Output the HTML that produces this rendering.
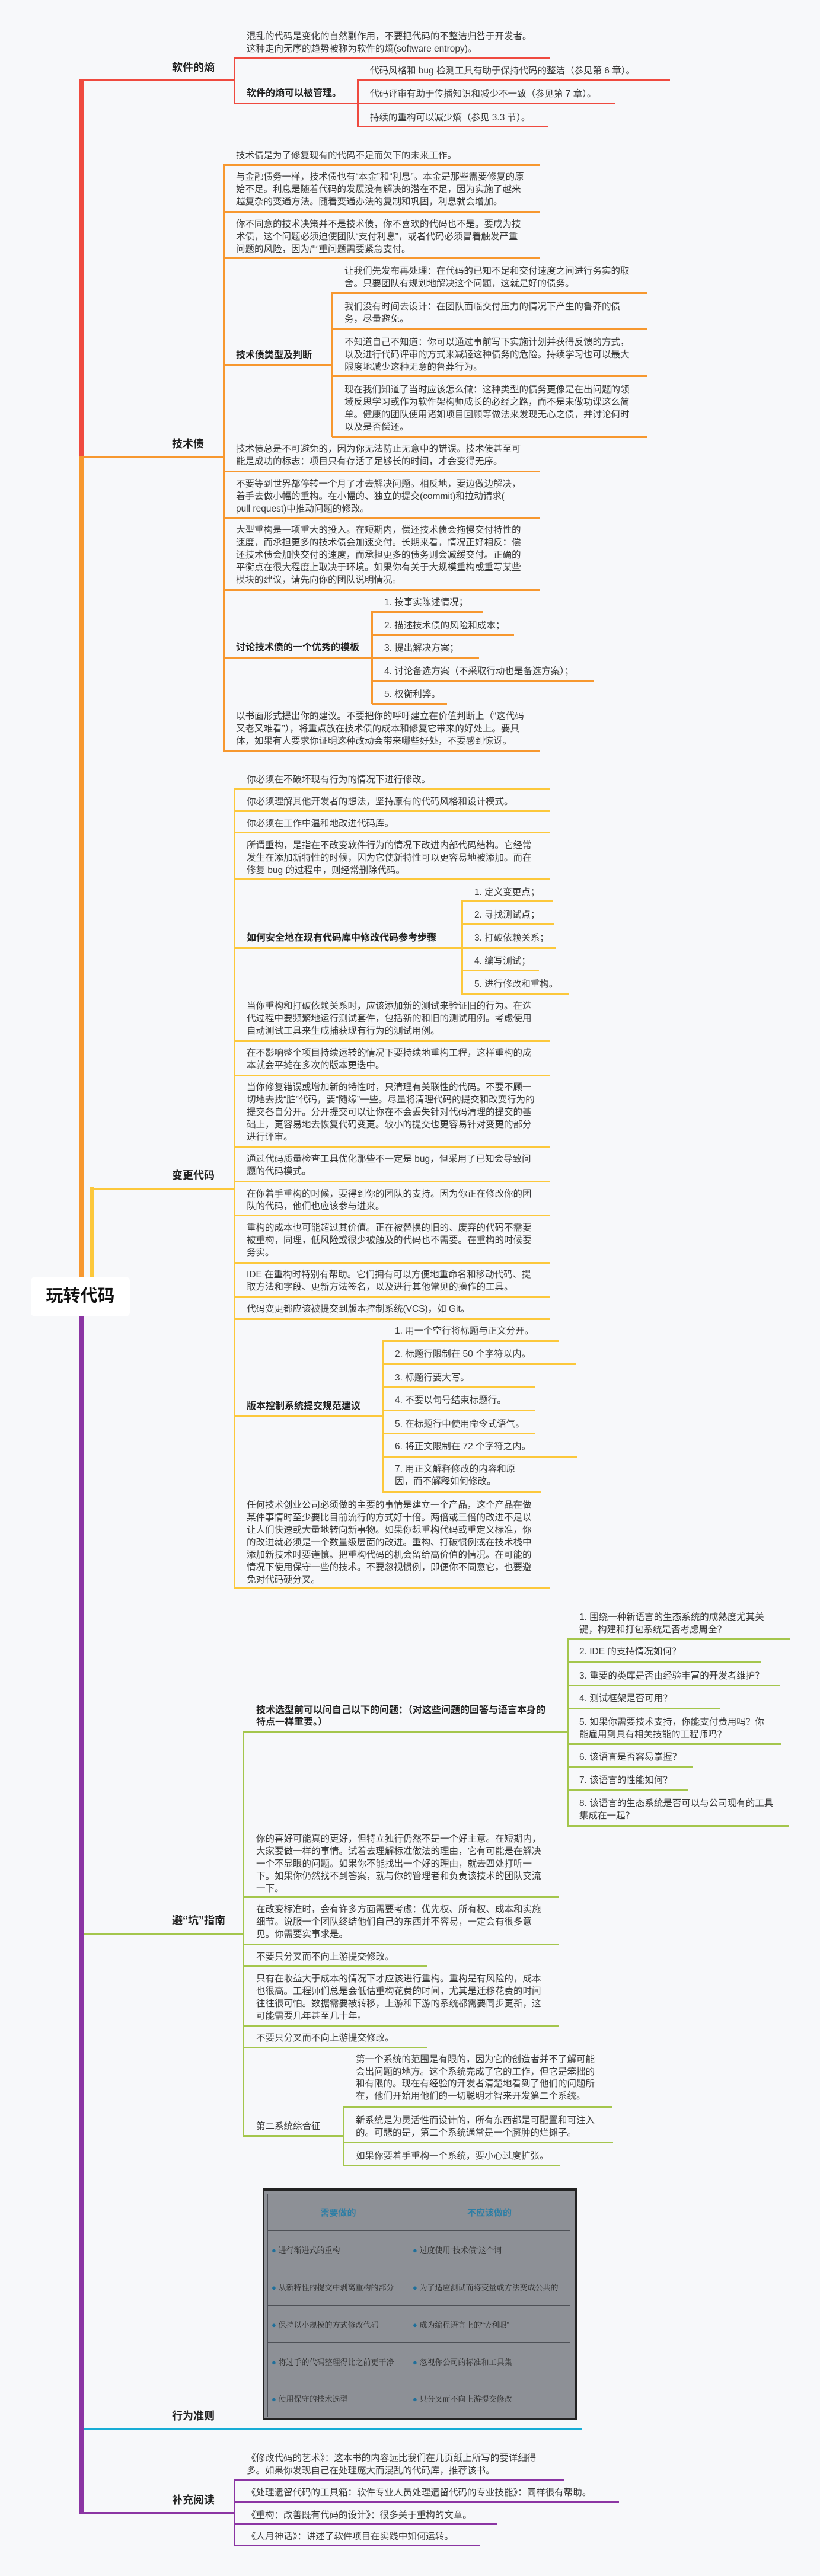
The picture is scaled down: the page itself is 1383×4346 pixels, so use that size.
<!DOCTYPE html>
<html><head><meta charset="utf-8">
<style>
html,body{margin:0;padding:0;}
body{width:1383px;height:4346px;background:#F7F8FA;position:relative;overflow:hidden;font-family:"Liberation Sans","Noto Sans CJK SC",sans-serif;}
.t{position:absolute;font-size:15.5px;line-height:21px;color:#3a3a3a;white-space:nowrap;}
.b{position:absolute;font-size:16px;line-height:21px;color:#222;font-weight:bold;white-space:nowrap;}
.m{position:absolute;font-size:18px;line-height:24px;color:#222;font-weight:bold;white-space:nowrap;}
.h{position:absolute;height:3px;}
.v{position:absolute;width:3px;}
.R{background:#EF4A3F}.O{background:#F7982F}.Y{background:#FCC83B}.G{background:#A4C64C}.B{background:#17ADD6}.P{background:#8B35A3}
</style></head><body>

<!-- main trunk -->
<div class="v R" style="left:133px;width:8px;top:134px;height:2022px"></div>
<div class="v O" style="left:133px;width:8px;top:769px;height:1387px"></div>
<div class="v Y" style="left:151px;width:8px;top:2003px;height:153px"></div>
<div class="v P" style="left:133px;width:8px;top:2219px;height:2023px"></div>

<div style="position:absolute;left:52px;top:2154px;width:167px;height:67px;background:#fff;border-radius:7px;"></div>
<div style="position:absolute;left:52px;top:2154px;width:167px;height:67px;line-height:67px;text-align:center;font-size:29px;font-weight:bold;color:#111;font-family:'Liberation Sans','Noto Sans CJK SC',sans-serif;">玩转代码</div>

<!-- 软件的熵 -->
<div class="h R" style="left:137px;top:134px;width:258px"></div>
<div class="m" style="left:290px;top:102px">软件的熵</div>
<div class="v R" style="left:394px;top:97px;height:78px"></div>
<div class="t" style="left:416px;top:51px">混乱的代码是变化的自然副作用，不要把代码的不整洁归咎于开发者。<br>这种走向无序的趋势被称为软件的熵(software entropy)。</div>
<div class="h R" style="left:395px;top:97px;width:533px"></div>
<div class="b" style="left:416px;top:147px">软件的熵可以被管理。</div>
<div class="h R" style="left:395px;top:173px;width:208px"></div>
<div class="v R" style="left:602px;top:134px;height:80px"></div>
<div class="t" style="left:624px;top:109px">代码风格和 bug 检测工具有助于保持代码的整洁（参见第 6 章）。</div>
<div class="h R" style="left:603px;top:134px;width:527px"></div>
<div class="t" style="left:624px;top:148px">代码评审有助于传播知识和减少不一致（参见第 7 章）。</div>
<div class="h R" style="left:603px;top:173px;width:435px"></div>
<div class="t" style="left:624px;top:188px">持续的重构可以减少熵（参见 3.3 节）。</div>
<div class="h R" style="left:603px;top:212px;width:321px"></div>

<!-- 技术债 -->
<div class="h O" style="left:137px;top:770px;width:240px"></div>
<div class="m" style="left:290px;top:737px">技术债</div>
<div class="v O" style="left:376px;top:277px;height:991px"></div>
<div class="t" style="left:398px;top:252px">技术债是为了修复现有的代码不足而欠下的未来工作。</div>
<div class="h O" style="left:377px;top:277px;width:533px"></div>
<div class="t" style="left:398px;top:288px">与金融债务一样，技术债也有“本金”和“利息”。本金是那些需要修复的原<br>始不足。利息是随着代码的发展没有解决的潜在不足，因为实施了越来<br>越复杂的变通方法。随着变通办法的复制和巩固，利息就会增加。</div>
<div class="h O" style="left:377px;top:356px;width:533px"></div>
<div class="t" style="left:398px;top:368px">你不同意的技术决策并不是技术债，你不喜欢的代码也不是。要成为技<br>术债，这个问题必须迫使团队“支付利息”，或者代码必须冒着触发严重<br>问题的风险，因为严重问题需要紧急支付。</div>
<div class="h O" style="left:377px;top:434px;width:533px"></div>
<div class="b" style="left:398px;top:589px">技术债类型及判断</div>
<div class="h O" style="left:377px;top:614px;width:183px"></div>
<div class="v O" style="left:559px;top:493px;height:245px"></div>
<div class="t" style="left:581px;top:447px">让我们先发布再处理：在代码的已知不足和交付速度之间进行务实的取<br>舍。只要团队有规划地解决这个问题，这就是好的债务。</div>
<div class="h O" style="left:560px;top:493px;width:532px"></div>
<div class="t" style="left:581px;top:507px">我们没有时间去设计：在团队面临交付压力的情况下产生的鲁莽的债<br>务，尽量避免。</div>
<div class="h O" style="left:560px;top:553px;width:532px"></div>
<div class="t" style="left:581px;top:567px">不知道自己不知道：你可以通过事前写下实施计划并获得反馈的方式，<br>以及进行代码评审的方式来减轻这种债务的危险。持续学习也可以最大<br>限度地减少这种无意的鲁莽行为。</div>
<div class="h O" style="left:560px;top:633px;width:532px"></div>
<div class="t" style="left:581px;top:647px">现在我们知道了当时应该怎么做：这种类型的债务更像是在出问题的领<br>域反思学习或作为软件架构师成长的必经之路，而不是未做功课这么简<br>单。健康的团队使用诸如项目回顾等做法来发现无心之债，并讨论何时<br>以及是否偿还。</div>
<div class="h O" style="left:560px;top:736px;width:532px"></div>
<div class="t" style="left:398px;top:747px">技术债总是不可避免的，因为你无法防止无意中的错误。技术债甚至可<br>能是成功的标志：项目只有存活了足够长的时间，才会变得无序。</div>
<div class="h O" style="left:377px;top:794px;width:533px"></div>
<div class="t" style="left:398px;top:806px">不要等到世界都停转一个月了才去解决问题。相反地，要边做边解决，<br>着手去做小幅的重构。在小幅的、独立的提交(commit)和拉动请求(<br>pull request)中推动问题的修改。</div>
<div class="h O" style="left:377px;top:873px;width:533px"></div>
<div class="t" style="left:398px;top:884px">大型重构是一项重大的投入。在短期内，偿还技术债会拖慢交付特性的<br>速度，而承担更多的技术债会加速交付。长期来看，情况正好相反：偿<br>还技术债会加快交付的速度，而承担更多的债务则会减缓交付。正确的<br>平衡点在很大程度上取决于环境。如果你有关于大规模重构或重写某些<br>模块的建议，请先向你的团队说明情况。</div>
<div class="h O" style="left:377px;top:994px;width:533px"></div>
<div class="b" style="left:398px;top:1082px">讨论技术债的一个优秀的模板</div>
<div class="h O" style="left:377px;top:1108px;width:250px"></div>
<div class="v O" style="left:626px;top:1031px;height:157px"></div>
<div class="t" style="left:648px;top:1006px">1. 按事实陈述情况；</div>
<div class="h O" style="left:627px;top:1031px;width:187px"></div>
<div class="t" style="left:648px;top:1045px">2. 描述技术债的风险和成本；</div>
<div class="h O" style="left:627px;top:1070px;width:240px"></div>
<div class="t" style="left:648px;top:1083px">3. 提出解决方案；</div>
<div class="h O" style="left:627px;top:1108px;width:181px"></div>
<div class="t" style="left:648px;top:1122px">4. 讨论备选方案（不采取行动也是备选方案）；</div>
<div class="h O" style="left:627px;top:1148px;width:374px"></div>
<div class="t" style="left:648px;top:1161px">5. 权衡利弊。</div>
<div class="h O" style="left:627px;top:1186px;width:127px"></div>
<div class="t" style="left:398px;top:1198px">以书面形式提出你的建议。不要把你的呼吁建立在价值判断上（“这代码<br>又老又难看”），将重点放在技术债的成本和修复它带来的好处上。要具<br>体，如果有人要求你证明这种改动会带来哪些好处，不要感到惊讶。</div>
<div class="h O" style="left:377px;top:1266px;width:533px"></div>

<!-- 变更代码 -->
<div class="h Y" style="left:155px;top:2004px;width:240px"></div>
<div class="m" style="left:290px;top:1971px">变更代码</div>
<div class="v Y" style="left:394px;top:1330px;height:1350px"></div>
<div class="t" style="left:416px;top:1305px">你必须在不破坏现有行为的情况下进行修改。</div>
<div class="h Y" style="left:395px;top:1330px;width:533px"></div>
<div class="t" style="left:416px;top:1342px">你必须理解其他开发者的想法，坚持原有的代码风格和设计模式。</div>
<div class="h Y" style="left:395px;top:1367px;width:533px"></div>
<div class="t" style="left:416px;top:1379px">你必须在工作中温和地改进代码库。</div>
<div class="h Y" style="left:395px;top:1403px;width:533px"></div>
<div class="t" style="left:416px;top:1416px">所谓重构，是指在不改变软件行为的情况下改进内部代码结构。它经常<br>发生在添加新特性的时候，因为它使新特性可以更容易地被添加。而在<br>修复 bug 的过程中，则经常删除代码。</div>
<div class="h Y" style="left:395px;top:1482px;width:533px"></div>
<div class="b" style="left:416px;top:1572px">如何安全地在现有代码库中修改代码参考步骤</div>
<div class="h Y" style="left:395px;top:1598px;width:384px"></div>
<div class="v Y" style="left:778px;top:1519px;height:159px"></div>
<div class="t" style="left:800px;top:1495px">1. 定义变更点；</div>
<div class="h Y" style="left:779px;top:1519px;width:154px"></div>
<div class="t" style="left:800px;top:1533px">2. 寻找测试点；</div>
<div class="h Y" style="left:779px;top:1558px;width:156px"></div>
<div class="t" style="left:800px;top:1572px">3. 打破依赖关系；</div>
<div class="h Y" style="left:779px;top:1598px;width:159px"></div>
<div class="t" style="left:800px;top:1611px">4. 编写测试；</div>
<div class="h Y" style="left:779px;top:1636px;width:130px"></div>
<div class="t" style="left:800px;top:1650px">5. 进行修改和重构。</div>
<div class="h Y" style="left:779px;top:1676px;width:180px"></div>
<div class="t" style="left:416px;top:1687px">当你重构和打破依赖关系时，应该添加新的测试来验证旧的行为。在迭<br>代过程中要频繁地运行测试套件，包括新的和旧的测试用例。考虑使用<br>自动测试工具来生成捕获现有行为的测试用例。</div>
<div class="h Y" style="left:395px;top:1755px;width:533px"></div>
<div class="t" style="left:416px;top:1766px">在不影响整个项目持续运转的情况下要持续地重构工程，这样重构的成<br>本就会平摊在多次的版本更迭中。</div>
<div class="h Y" style="left:395px;top:1813px;width:533px"></div>
<div class="t" style="left:416px;top:1824px">当你修复错误或增加新的特性时，只清理有关联性的代码。不要不顾一<br>切地去找“脏”代码，要“随缘”一些。尽量将清理代码的提交和改变行为的<br>提交各自分开。分开提交可以让你在不会丢失针对代码清理的提交的基<br>础上，更容易地去恢复代码变更。较小的提交也更容易针对变更的部分<br>进行评审。</div>
<div class="h Y" style="left:395px;top:1933px;width:533px"></div>
<div class="t" style="left:416px;top:1945px">通过代码质量检查工具优化那些不一定是 bug，但采用了已知会导致问<br>题的代码模式。</div>
<div class="h Y" style="left:395px;top:1992px;width:533px"></div>
<div class="t" style="left:416px;top:2004px">在你着手重构的时候，要得到你的团队的支持。因为你正在修改你的团<br>队的代码，他们也应该参与进来。</div>
<div class="h Y" style="left:395px;top:2049px;width:533px"></div>
<div class="t" style="left:416px;top:2061px">重构的成本也可能超过其价值。正在被替换的旧的、废弃的代码不需要<br>被重构，同理，低风险或很少被触及的代码也不需要。在重构的时候要<br>务实。</div>
<div class="h Y" style="left:395px;top:2129px;width:533px"></div>
<div class="t" style="left:416px;top:2140px">IDE 在重构时特别有帮助。它们拥有可以方便地重命名和移动代码、提<br>取方法和字段、更新方法签名，以及进行其他常见的操作的工具。</div>
<div class="h Y" style="left:395px;top:2187px;width:533px"></div>
<div class="t" style="left:416px;top:2198px">代码变更都应该被提交到版本控制系统(VCS)，如 Git。</div>
<div class="h Y" style="left:395px;top:2224px;width:533px"></div>
<div class="b" style="left:416px;top:2362px">版本控制系统提交规范建议</div>
<div class="h Y" style="left:395px;top:2388px;width:250px"></div>
<div class="v Y" style="left:644px;top:2261px;height:257px"></div>
<div class="t" style="left:666px;top:2235px">1. 用一个空行将标题与正文分开。</div>
<div class="h Y" style="left:645px;top:2261px;width:298px"></div>
<div class="t" style="left:666px;top:2274px">2. 标题行限制在 50 个字符以内。</div>
<div class="h Y" style="left:645px;top:2300px;width:327px"></div>
<div class="t" style="left:666px;top:2314px">3. 标题行要大写。</div>
<div class="h Y" style="left:645px;top:2339px;width:258px"></div>
<div class="t" style="left:666px;top:2352px">4. 不要以句号结束标题行。</div>
<div class="h Y" style="left:645px;top:2378px;width:258px"></div>
<div class="t" style="left:666px;top:2392px">5. 在标题行中使用命令式语气。</div>
<div class="h Y" style="left:645px;top:2417px;width:258px"></div>
<div class="t" style="left:666px;top:2430px">6. 将正文限制在 72 个字符之内。</div>
<div class="h Y" style="left:645px;top:2456px;width:328px"></div>
<div class="t" style="left:666px;top:2468px">7. 用正文解释修改的内容和原<br>因，而不解释如何修改。</div>
<div class="h Y" style="left:645px;top:2516px;width:268px"></div>
<div class="t" style="left:416px;top:2529px">任何技术创业公司必须做的主要的事情是建立一个产品，这个产品在做<br>某件事情时至少要比目前流行的方式好十倍。两倍或三倍的改进不足以<br>让人们快速或大量地转向新事物。如果你想重构代码或重定义标准，你<br>的改进就必须是一个数量级层面的改进。重构、打破惯例或在技术栈中<br>添加新技术时要谨慎。把重构代码的机会留给高价值的情况。在可能的<br>情况下使用保守一些的技术。不要忽视惯例，即便你不同意它，也要避<br>免对代码硬分叉。</div>
<div class="h Y" style="left:395px;top:2678px;width:533px"></div>

<!-- 避坑指南 -->
<div class="h G" style="left:141px;top:3262px;width:269px"></div>
<div class="m" style="left:290px;top:3228px">避“坑”指南</div>
<div class="v G" style="left:409px;top:2921px;height:683px"></div>
<div class="b" style="left:432px;top:2876px;line-height:20px">技术选型前可以问自己以下的问题：（对这些问题的回答与语言本身的<br>特点一样重要。）</div>
<div class="h G" style="left:410px;top:2921px;width:547px"></div>
<div class="v G" style="left:956px;top:2764px;height:317px"></div>
<div class="t" style="left:977px;top:2718px">1. 围绕一种新语言的生态系统的成熟度尤其关<br>键，构建和打包系统是否考虑周全？</div>
<div class="h G" style="left:957px;top:2764px;width:376px"></div>
<div class="t" style="left:977px;top:2776px">2. IDE 的支持情况如何？</div>
<div class="h G" style="left:957px;top:2803px;width:327px"></div>
<div class="t" style="left:977px;top:2817px">3. 重要的类库是否由经验丰富的开发者维护？</div>
<div class="h G" style="left:957px;top:2842px;width:359px"></div>
<div class="t" style="left:977px;top:2855px">4. 测试框架是否可用？</div>
<div class="h G" style="left:957px;top:2881px;width:258px"></div>
<div class="t" style="left:977px;top:2895px">5. 如果你需要技术支持，你能支付费用吗？你<br>能雇用到具有相关技能的工程师吗？</div>
<div class="h G" style="left:957px;top:2941px;width:360px"></div>
<div class="t" style="left:977px;top:2954px">6. 该语言是否容易掌握？</div>
<div class="h G" style="left:957px;top:2980px;width:212px"></div>
<div class="t" style="left:977px;top:2993px">7. 该语言的性能如何？</div>
<div class="h G" style="left:957px;top:3019px;width:204px"></div>
<div class="t" style="left:977px;top:3032px">8. 该语言的生态系统是否可以与公司现有的工具<br>集成在一起？</div>
<div class="h G" style="left:957px;top:3079px;width:374px"></div>
<div class="t" style="left:432px;top:3092px">你的喜好可能真的更好，但特立独行仍然不是一个好主意。在短期内，<br>大家要做一样的事情。试着去理解标准做法的理由，它有可能是在解决<br>一个不显眼的问题。如果你不能找出一个好的理由，就去四处打听一<br>下。如果你仍然找不到答案，就与你的管理者和负责该技术的团队交流<br>一下。</div>
<div class="h G" style="left:410px;top:3199px;width:533px"></div>
<div class="t" style="left:432px;top:3211px">在改变标准时，会有许多方面需要考虑：优先权、所有权、成本和实施<br>细节。说服一个团队终结他们自己的东西并不容易，一定会有很多意<br>见。你需要实事求是。</div>
<div class="h G" style="left:410px;top:3279px;width:533px"></div>
<div class="t" style="left:432px;top:3291px">不要只分叉而不向上游提交修改。</div>
<div class="h G" style="left:410px;top:3316px;width:311px"></div>
<div class="t" style="left:432px;top:3328px">只有在收益大于成本的情况下才应该进行重构。重构是有风险的，成本<br>也很高。工程师们总是会低估重构花费的时间，尤其是迁移花费的时间<br>往往很可怕。数据需要被转移，上游和下游的系统都需要同步更新，这<br>可能需要几年甚至几十年。</div>
<div class="h G" style="left:410px;top:3416px;width:533px"></div>
<div class="t" style="left:432px;top:3428px">不要只分叉而不向上游提交修改。</div>
<div class="h G" style="left:410px;top:3453px;width:311px"></div>
<div class="t" style="left:432px;top:3577px">第二系统综合征</div>
<div class="h G" style="left:410px;top:3602px;width:169px"></div>
<div class="v G" style="left:578px;top:3553px;height:101px"></div>
<div class="t" style="left:600px;top:3465px;line-height:20.7px">第一个系统的范围是有限的，因为它的创造者并不了解可能<br>会出问题的地方。这个系统完成了它的工作，但它是笨拙的<br>和有限的。现在有经验的开发者清楚地看到了他们的问题所<br>在，他们开始用他们的一切聪明才智来开发第二个系统。</div>
<div class="h G" style="left:579px;top:3553px;width:454px"></div>
<div class="t" style="left:600px;top:3567px">新系统是为灵活性而设计的，所有东西都是可配置和可注入<br>的。可悲的是，第二个系统通常是一个臃肿的烂摊子。</div>
<div class="h G" style="left:579px;top:3613px;width:455px"></div>
<div class="t" style="left:600px;top:3627px">如果你要着手重构一个系统，要小心过度扩张。</div>
<div class="h G" style="left:579px;top:3652px;width:365px"></div>

<!-- 行为准则 table -->
<div style="position:absolute;left:443px;top:3692px;width:530px;height:391px;background:#222;"></div>
<div style="position:absolute;left:446px;top:3697px;width:524px;height:383px;background:#8f9298;"></div>
<table style="position:absolute;left:451px;top:3701px;width:511px;height:376px;border-collapse:collapse;background:#8d9096;font-family:'Liberation Sans','Noto Serif CJK SC',serif;font-size:13px;color:#2a2a2a;">
<tr style="height:62px"><td style="width:235px;border:1px solid #4d5056;text-align:center;color:#2d7ea5;font-weight:bold;font-size:15px;font-family:'Liberation Sans','Noto Sans CJK SC',sans-serif">需要做的</td><td style="border:1px solid #4d5056;text-align:center;color:#2d7ea5;font-weight:bold;font-size:15px;font-family:'Liberation Sans','Noto Sans CJK SC',sans-serif">不应该做的</td></tr>
<tr style="height:63px"><td style="border:1px solid #4d5056;padding-left:6px"><span style="color:#1f6f9a">●</span> 进行渐进式的重构</td><td style="border:1px solid #4d5056;padding-left:6px"><span style="color:#1f6f9a">●</span> 过度使用“技术债”这个词</td></tr>
<tr style="height:63px"><td style="border:1px solid #4d5056;padding-left:6px;white-space:nowrap"><span style="color:#1f6f9a">●</span> 从新特性的提交中剥离重构的部分</td><td style="border:1px solid #4d5056;padding-left:6px;white-space:nowrap"><span style="color:#1f6f9a">●</span> 为了适应测试而将变量或方法变成公共的</td></tr>
<tr style="height:63px"><td style="border:1px solid #4d5056;padding-left:6px"><span style="color:#1f6f9a">●</span> 保持以小规模的方式修改代码</td><td style="border:1px solid #4d5056;padding-left:6px"><span style="color:#1f6f9a">●</span> 成为编程语言上的“势利眼”</td></tr>
<tr style="height:63px"><td style="border:1px solid #4d5056;padding-left:6px;white-space:nowrap"><span style="color:#1f6f9a">●</span> 将过手的代码整理得比之前更干净</td><td style="border:1px solid #4d5056;padding-left:6px"><span style="color:#1f6f9a">●</span> 忽视你公司的标准和工具集</td></tr>
<tr style="height:62px"><td style="border:1px solid #4d5056;padding-left:6px"><span style="color:#1f6f9a">●</span> 使用保守的技术选型</td><td style="border:1px solid #4d5056;padding-left:6px"><span style="color:#1f6f9a">●</span> 只分叉而不向上游提交修改</td></tr>
</table>
<div class="m" style="left:290px;top:4064px">行为准则</div>
<div class="h B" style="left:141px;top:4097px;width:841px"></div>

<!-- 补充阅读 -->
<div class="h P" style="left:137px;top:4238px;width:258px"></div>
<div class="m" style="left:290px;top:4206px">补充阅读</div>
<div class="v P" style="left:394px;top:4183px;height:112px"></div>
<div class="t" style="left:416px;top:4137px">《修改代码的艺术》：这本书的内容远比我们在几页纸上所写的要详细得<br>多。如果你发现自己在处理庞大而混乱的代码库，推荐该书。</div>
<div class="h P" style="left:395px;top:4183px;width:557px"></div>
<div class="t" style="left:416px;top:4195px">《处理遗留代码的工具箱：软件专业人员处理遗留代码的专业技能》：同样很有帮助。</div>
<div class="h P" style="left:395px;top:4219px;width:649px"></div>
<div class="t" style="left:416px;top:4233px">《重构：改善既有代码的设计》：很多关于重构的文章。</div>
<div class="h P" style="left:395px;top:4257px;width:443px"></div>
<div class="t" style="left:416px;top:4269px">《人月神话》：讲述了软件项目在实践中如何运转。</div>
<div class="h P" style="left:395px;top:4293px;width:414px"></div>

</body></html>
